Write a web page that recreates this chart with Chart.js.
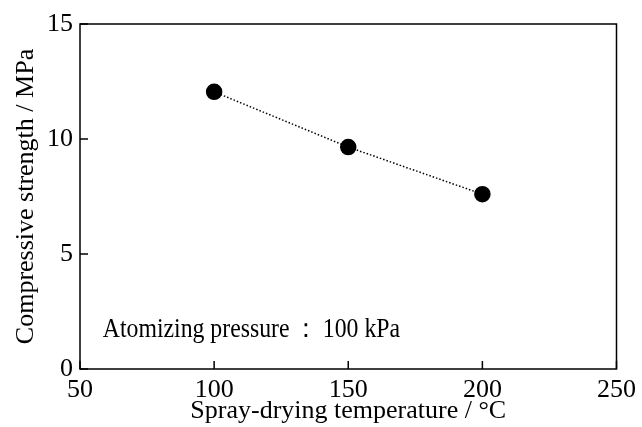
<!DOCTYPE html>
<html><head><meta charset="utf-8">
<script src="https://cdn.jsdelivr.net/npm/chart.js@4/dist/chart.umd.min.js"></script>
<style>html,body{margin:0;padding:0;background:#fff}#wrap{width:642px;height:427px}</style>
</head><body><div id="wrap"><canvas id="c" width="642" height="427"></canvas></div>
<script>
const temperatures = [100, 150, 200];
const strengths = [12.05, 9.65, 7.6];
const xTicks = [50, 100, 150, 200, 250];
const yTicks = [0, 5, 10, 15];
const annotationText = 'Atomizing pressure\u2009\uFF1A\u2009100 kPa';
const xTitle = 'Spray-drying temperature / \u00B0C';
const yTitle = 'Compressive strength / MPa';

const FONT = '"Liberation Serif","Times New Roman",serif';

const framePlugin = {
  id: 'frame',
  afterDraw(chart) {
    const {ctx, chartArea: a, scales} = chart;
    ctx.save();
    ctx.strokeStyle = '#000';
    ctx.lineWidth = 1.5;
    ctx.strokeRect(a.left, a.top, a.right - a.left, a.bottom - a.top);
    ctx.beginPath();
    xTicks.forEach(v => {
      const x = scales.x.getPixelForValue(v);
      ctx.moveTo(x, a.bottom); ctx.lineTo(x, a.bottom - 8);
    });
    yTicks.forEach(v => {
      const y = scales.y.getPixelForValue(v);
      ctx.moveTo(a.left, y); ctx.lineTo(a.left + 8, y);
    });
    ctx.stroke();
    ctx.fillStyle = '#000';
    ctx.font = '27px ' + FONT;
    ctx.textBaseline = 'alphabetic';
    ctx.textAlign = 'left';
    const tx = scales.x.getPixelForValue(58.5), ty = scales.y.getPixelForValue(1.39);
    ctx.translate(tx, ty);
    ctx.scale(0.88, 1);
    ctx.fillText(annotationText, 0, 0);
    ctx.restore();
  }
};

new Chart(document.getElementById('c'), {
  type: 'scatter',
  data: {
    datasets: [{
      data: temperatures.map((t, i) => ({x: t, y: strengths[i]})),
      showLine: true,
      borderColor: '#000',
      borderWidth: 1.5,
      borderDash: [1.5, 2],
      backgroundColor: '#000',
      pointBackgroundColor: '#000',
      pointBorderColor: '#000',
      pointRadius: 7.5,
      pointHoverRadius: 7.5
    }]
  },
  options: {
    responsive: false,
    animation: false,
    devicePixelRatio: 1,
    layout: {padding: {left: 0, right: 23, top: 24, bottom: 0}},
    plugins: {legend: {display: false}, tooltip: {enabled: false}},
    scales: {
      x: {
        type: 'linear', min: 50, max: 250,
        afterBuildTicks(s) { s.ticks = xTicks.map(v => ({value: v})); },
        afterFit(s) { s.height = 58; },
        grid: {display: false, drawTicks: false},
        border: {display: false},
        ticks: {color: '#000', font: {family: FONT, size: 26}, padding: 6, maxRotation: 0},
        title: {display: true, text: xTitle, color: '#000', font: {family: FONT, size: 26}, padding: {top: 0, bottom: 0}}
      },
      y: {
        type: 'linear', min: 0, max: 15,
        afterBuildTicks(s) { s.ticks = yTicks.map(v => ({value: v})); },
        afterFit(s) { s.width = 80; },
        grid: {display: false, drawTicks: false},
        border: {display: false},
        ticks: {color: '#000', font: {family: FONT, size: 26}, padding: 7},
        title: {display: true, text: yTitle, color: '#000', font: {family: FONT, size: 26}, padding: {top: 11, bottom: 0}}
      }
    }
  },
  plugins: [framePlugin]
});
</script></body></html>
